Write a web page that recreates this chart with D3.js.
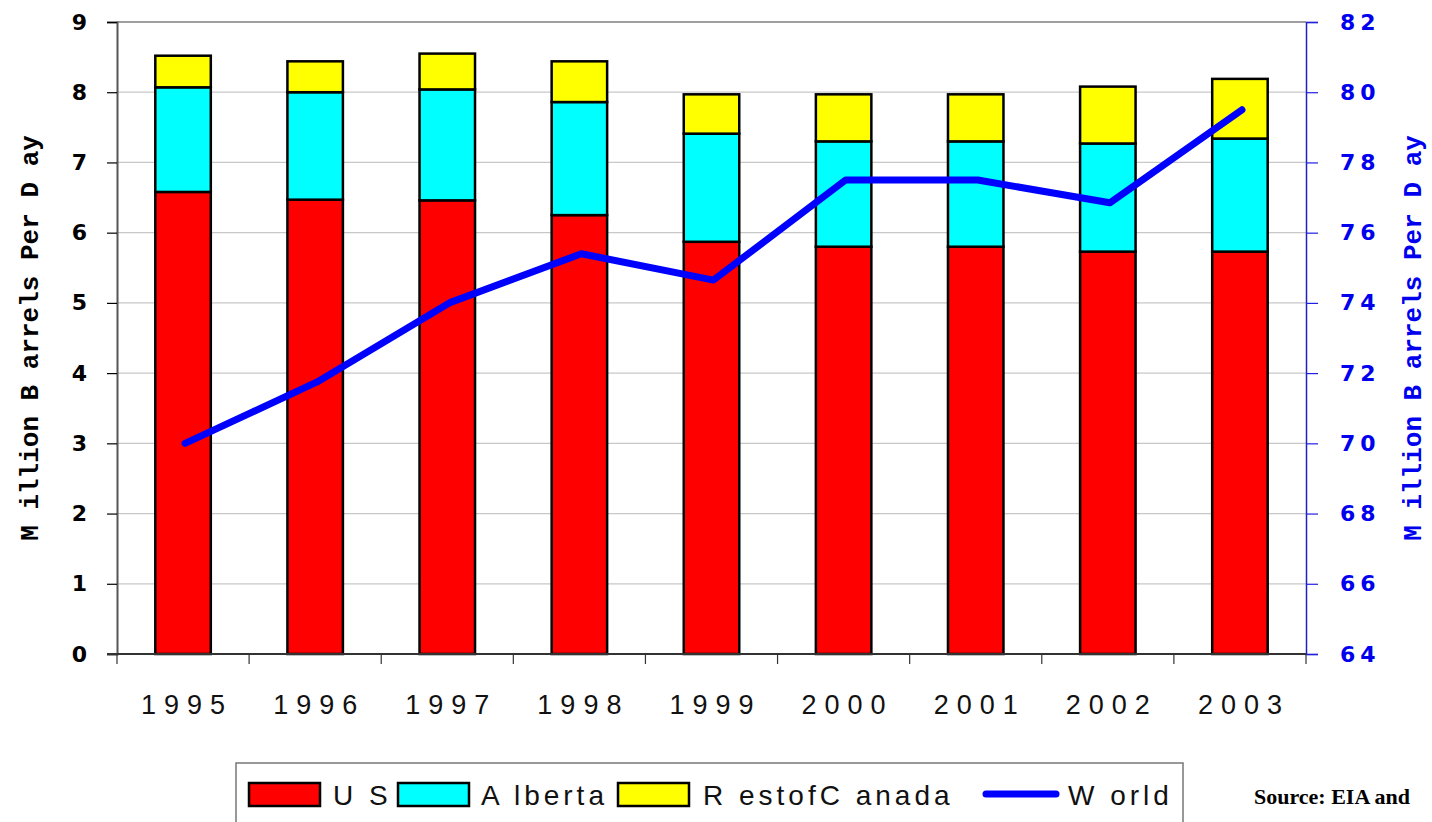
<!DOCTYPE html>
<html><head><meta charset="utf-8">
<script src="https://cdn.jsdelivr.net/npm/d3@7"></script>
<style>body{margin:0;background:#fff}svg{display:block}</style>
</head><body>
<svg id="c" width="1432" height="822"></svg>
<script>
const years = ["1995","1996","1997","1998","1999","2000","2001","2002","2003"];
const us = [6.58,6.47,6.46,6.25,5.87,5.80,5.80,5.73,5.73];
const alberta = [1.49,1.53,1.58,1.61,1.54,1.50,1.50,1.54,1.61];
const restOfCanada = [0.45,0.44,0.51,0.58,0.56,0.67,0.67,0.81,0.85];
const world = [70.0,71.75,74.0,75.4,74.65,77.5,77.5,76.85,79.5];
const leftTicks = [0,1,2,3,4,5,6,7,8,9];
const rightTicks = [64,66,68,70,72,74,76,78,80,82];
const seriesNames = ["US","Alberta","RestofCanada","World"];
const seriesLabels = ["U S","A lberta","R estofC anada","W orld"];
const colors = {US:"#ff0000",Alberta:"#00ffff",RestofCanada:"#ffff00",World:"#0000ff"};

const svg = d3.select("#c");
const L=117,R=1306,T=22,B=654;
const x = d3.scaleBand().domain(years).range([L,R]).paddingInner(0.58).paddingOuter(0.29);
const xb = d3.scaleBand().domain(years).range([L,R]);
const y = d3.scaleLinear().domain([0,9]).range([B,T]);
const y2 = d3.scaleLinear().domain([64,82]).range([B,T]);

// gridlines
svg.append("g").selectAll("line").data(leftTicks.slice(1)).join("line")
  .attr("x1",L).attr("x2",R).attr("y1",d=>y(d)).attr("y2",d=>y(d))
  .attr("stroke","#c8c8c8").attr("stroke-width",1.2);
// top border
svg.append("line").attr("x1",L).attr("x2",R).attr("y1",T).attr("y2",T).attr("stroke","#888").attr("stroke-width",1.5);

// stacked bars
const rows = years.map((yr,i)=>({year:yr,US:us[i],Alberta:alberta[i],RestofCanada:restOfCanada[i]}));
const stack = d3.stack().keys(["US","Alberta","RestofCanada"])(rows);
svg.append("g").selectAll("g").data(stack).join("g")
  .attr("fill",d=>colors[d.key])
  .selectAll("rect").data(d=>d).join("rect")
  .attr("x",d=>x(d.data.year)).attr("width",x.bandwidth())
  .attr("y",d=>y(d[1])).attr("height",d=>y(d[0])-y(d[1]))
  .attr("stroke","#000").attr("stroke-width",2.5);

// left axis
const gl = svg.append("g").attr("transform",`translate(${L},0)`)
  .call(d3.axisLeft(y).tickValues(leftTicks).tickSize(10).tickPadding(20));
gl.select(".domain").attr("stroke","#555").attr("stroke-width",2);
gl.selectAll(".tick line").attr("stroke","#000").attr("stroke-width",1.2);
gl.selectAll("text").attr("font-family","DejaVu Sans").attr("font-weight","bold").attr("font-size",22).attr("fill","#000");

// right axis
const gr = svg.append("g").attr("transform",`translate(${R},0)`)
  .call(d3.axisRight(y2).tickValues(rightTicks).tickSize(12).tickPadding(22));
gr.select(".domain").attr("stroke","#2020c0").attr("stroke-width",1.5);
gr.selectAll(".tick line").attr("stroke","#2020e0").attr("stroke-width",1.2);
gr.selectAll("text").attr("font-family","DejaVu Sans").attr("font-weight","bold").attr("font-size",22)
  .attr("fill","#0000ee").attr("letter-spacing","5px");

// bottom axis
const gb = svg.append("g").attr("transform",`translate(0,${B})`);
gb.append("line").attr("x1",L-10).attr("x2",R).attr("y1",0).attr("y2",0).attr("stroke","#333").attr("stroke-width",2);
gb.selectAll("line.t").data(years.concat(["end"])).join("line").attr("class","t")
  .attr("x1",(d,i)=>i<years.length?xb(d):R).attr("x2",(d,i)=>i<years.length?xb(d):R)
  .attr("y1",0).attr("y2",10).attr("stroke","#333").attr("stroke-width",1.2);
gb.selectAll("text").data(years).join("text")
  .attr("x",d=>xb(d)+xb.bandwidth()/2+4).attr("y",60)
  .attr("text-anchor","middle").attr("font-family","Liberation Sans Narrow, Liberation Sans").attr("font-size",27)
  .attr("letter-spacing","8px").attr("fill","#111").text(d=>d);

// world line
const line = d3.line().x((d,i)=>x(years[i])+x.bandwidth()/2+2).y(d=>y2(d));
svg.append("path").datum(world).attr("d",line).attr("fill","none")
  .attr("stroke",colors.World).attr("stroke-width",7).attr("stroke-linecap","round").attr("stroke-linejoin","round");

// axis titles
svg.append("text").attr("transform",`translate(38,338) rotate(-90)`).attr("text-anchor","middle")
  .attr("font-family","Liberation Mono").attr("font-weight","bold").attr("font-size",26).attr("fill","#000").text("M illion B arrels Per D ay");
svg.append("text").attr("transform",`translate(1421,338) rotate(-90)`).attr("text-anchor","middle")
  .attr("font-family","Liberation Mono").attr("font-weight","bold").attr("font-size",26).attr("fill","#0000ee").text("M illion B arrels Per D ay");

// legend
const lg = svg.append("g");
lg.append("rect").attr("x",236).attr("y",763).attr("width",947).attr("height",70).attr("fill","#fff").attr("stroke","#777").attr("stroke-width",1.5);
const swX = [249,398,618,984];
const txX = [333,481,703,1068];
seriesNames.forEach((s,i)=>{
  if(s==="World"){
    lg.append("line").attr("x1",swX[i]+2).attr("x2",swX[i]+72).attr("y1",794).attr("y2",794)
      .attr("stroke",colors[s]).attr("stroke-width",7).attr("stroke-linecap","round");
  } else {
    lg.append("rect").attr("x",swX[i]).attr("y",783).attr("width",71).attr("height",23)
      .attr("fill",colors[s]).attr("stroke","#000").attr("stroke-width",2.5);
  }
  lg.append("text").attr("x",txX[i]).attr("y",805).attr("font-family","Liberation Sans Narrow, Liberation Sans")
    .attr("font-size",28).attr("letter-spacing","4px").attr("fill","#111").text(seriesLabels[i]);
});
svg.append("text").attr("x",1254).attr("y",804).attr("font-family","Liberation Serif").attr("font-weight","bold")
  .attr("font-size",22).attr("fill","#000").text("Source: EIA and");
</script>
</body></html>
